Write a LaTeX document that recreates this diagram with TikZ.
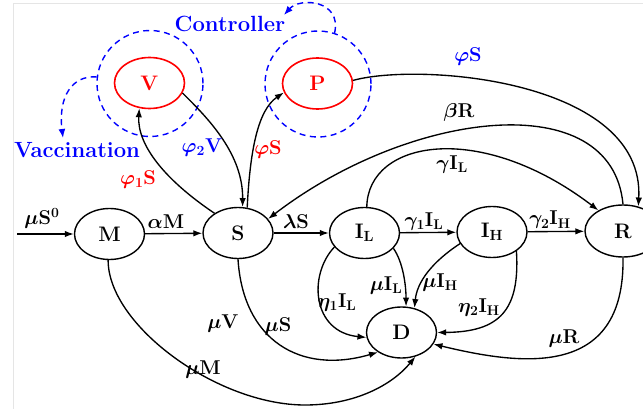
\RequirePackage{fix-cm}
\documentclass[tikz,border=0pt]{standalone}
\usetikzlibrary{shapes.geometric,arrows.meta}
\begin{document}
\begin{tikzpicture}[x=1pt,y=-1pt,
  comp/.style={ellipse,draw,line width=1.4pt,inner sep=0pt,minimum width=70pt,minimum height=51pt,font=\fontsize{21}{25}\selectfont\boldmath},
  ctrl/.style={comp,draw=red,text=red,line width=1.6pt},
  ring/.style={circle,draw=blue,dash pattern=on 6pt off 4.5pt,line width=1.4pt,minimum size=106pt,inner sep=0pt},
  flow/.style={line width=1.35pt,-{Latex[length=9pt,width=6.5pt]}},
  dflow/.style={blue,line width=1.4pt,dash pattern=on 6pt off 4.5pt,-{Latex[length=9pt,width=7pt]}},
  lbl/.style={anchor=base,inner sep=0pt,font=\fontsize{20}{24}\selectfont\boldmath},
  word/.style={anchor=base,inner sep=0pt,text=blue,font=\fontsize{22}{26}\selectfont\bfseries}]
\useasboundingbox (0,0) rectangle (643,409);
\clip (0,0) rectangle (643,409);
\draw[black!10,line width=0.8pt] (13,409) -- (13,3) -- (643,3);

% dashed controller rings
\node[ring] (CV) at (150,83.5) {};
\node[ring] (CP) at (318,84) {};

% compartments
\node[comp] (M) at (109.5,234) {$\mathbf{M}$};
\node[comp] (S) at (238,233) {$\mathbf{S}$};
\node[comp] (IL) at (364.5,233) {$\mathbf{I}_{\mathbf{L}}$};
\node[comp] (IH) at (492,232) {$\mathbf{I}_{\mathbf{H}}$};
\node[comp,minimum width=76pt,minimum height=52pt] (R) at (623,231) {$\mathbf{R}$};
\node[comp] (D) at (401.5,332.5) {$\mathbf{D}$};
\node[ctrl] (V) at (149.5,83) {$\mathbf{V}$};
\node[ctrl] (P) at (317.5,83.5) {$\mathbf{P}$};

% blue words
\node[word] (wc) at (230,32) {Controller};
\node[word] (wv) at (77,158) {Vaccination};
\coordinate (ctip) at (284,15);
\coordinate (vtip) at (63,138);
\draw[dflow] (CP.72) .. controls (342,0) and (300,-3) .. (ctip);
\draw[dflow] (CV.173) .. controls (72,75) and (58,97) .. (vtip);

% flows
\coordinate (in0) at (17,234);
\draw[flow] (in0) -- (M);
\draw[flow] (M) -- (S);
\draw[flow] (S) -- (IL);
\draw[flow] (IL) -- (IH);
\draw[flow] (IH) -- (R);
\draw[flow] (IL.85) .. controls (368,140) and (480,120) .. (R.140);
\draw[flow] (R.90) .. controls (612,85) and (410,110) .. (S.25);
\draw[flow] (P.5) .. controls (420,62) and (645,80) .. (R.58);
\draw[flow] (S.140) .. controls (165,180) and (137,145) .. (V.-112);
\draw[flow] (V.-17) .. controls (210,120) and (243,155) .. (S.80);
\draw[flow] (S.70) .. controls (250,150) and (258,110) .. (P.195);
\draw[flow] (M.-93) .. controls (108,325) and (217,405) .. (305,405)
                    .. controls (355,405) and (392,385) .. (D.-60);
\draw[flow] (S.-90) .. controls (243,340) and (300,375) .. (D.-140);
\draw[flow] (IL.-155) .. controls (308,275) and (312,332) .. (D.188);
\draw[flow] (IL.-28) .. controls (403,262) and (406,285) .. (D.80);
\draw[flow] (IH.-160) .. controls (432,262) and (417,282) .. (D.62);
\draw[flow] (IH.-38) .. controls (520,310) and (500,332) .. (D.0);
\draw[flow] (R.-90) .. controls (625,380) and (520,365) .. (D.-20);

% labels
\node[lbl] (l1) at (42,225) {$\mu\mathbf{S}^{\mathbf{0}}$};
\node[lbl] (l2) at (166,228) {$\alpha\mathbf{M}$};
\node[lbl] (l3) at (296,228) {$\lambda\mathbf{S}$};
\node[lbl] (l4) at (424,226) {$\gamma_1\mathbf{I}_{\mathbf{L}}$};
\node[lbl] (l5) at (550,225) {$\gamma_2\mathbf{I}_{\mathbf{H}}$};
\node[lbl] (l6) at (452,170) {$\gamma\mathbf{I}_{\mathbf{L}}$};
\node[lbl] (l7) at (459,118) {$\beta\mathbf{R}$};
\node[lbl,text=blue] (l8) at (468,62) {$\varphi\mathbf{S}$};
\node[lbl,text=red] (l9) at (138,185) {$\varphi_1\mathbf{S}$};
\node[lbl,text=blue] (l10) at (202,153) {$\varphi_2\mathbf{V}$};
\node[lbl,text=red] (l11) at (268,155) {$\varphi\mathbf{S}$};
\node[lbl] (l12) at (223,328) {$\mu\mathbf{V}$};
\node[lbl] (l13) at (278,331) {$\mu\mathbf{S}$};
\node[lbl] (l14) at (203,374) {$\mu\mathbf{M}$};
\node[lbl] (l15) at (337,307) {$\eta_1\mathbf{I}_{\mathbf{L}}$};
\node[lbl] (l16) at (386,290) {$\mu\mathbf{I}_{\mathbf{L}}$};
\node[lbl] (l17) at (440,287) {$\mu\mathbf{I}_{\mathbf{H}}$};
\node[lbl] (l18) at (479,312) {$\eta_2\mathbf{I}_{\mathbf{H}}$};
\node[lbl] (l19) at (564,343) {$\mu\mathbf{R}$};
\end{tikzpicture}
\end{document}
